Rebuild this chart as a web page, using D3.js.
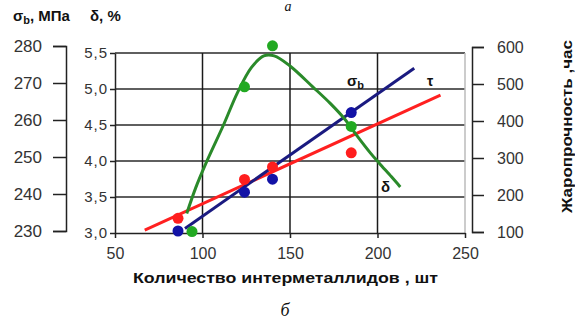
<!DOCTYPE html>
<html>
<head>
<meta charset="utf-8">
<script src="https://cdn.jsdelivr.net/npm/d3@7"></script>
<style>
  body { margin: 0; background: #fff; }
  svg { display: block; font-family: Arial, "Liberation Sans", sans-serif; }
  .tick line { stroke: #222; stroke-width: 1.5; }
  .domain { stroke: #222; stroke-width: 1.5; }
  .tick text { fill: #333; }
</style>
</head>
<body>
<div id="chart"></div>
<script>
// data
const xTicks = [50, 100, 150, 200, 250];
const sigmaTicks = [230, 240, 250, 260, 270, 280];
const deltaTicks = [3.0, 3.5, 4.0, 4.5, 5.0, 5.5];
const tauTicks = [100, 200, 300, 400, 500, 600];

// σb points (МПа) and trend
const sigmaX = [86, 124, 140, 185];
const sigmaVal = [230, 240.5, 244, 262];
const sigmaLineX = [90, 221];
const sigmaLineVal = [230.7, 274];

// жаропрочность points (час) and trend
const tauX = [86, 124, 140, 185];
const tauVal = [137, 242, 276, 314];
const tauLineX = [67, 236];
const tauLineVal = [105, 470];

// δ points (%) and curve
const deltaX = [94, 124, 140, 185];
const deltaVal = [3.02, 5.03, 5.6, 4.48];
const deltaCurveX = [91, 96, 102, 112, 120, 128, 135, 141, 150, 163, 173, 181, 188, 196, 201, 208, 213];
const deltaCurveVal = [3.27, 3.62, 3.97, 4.5, 4.95, 5.3, 5.46, 5.46, 5.32, 5.03, 4.8, 4.59, 4.36, 4.11, 3.97, 3.78, 3.64];

const width = 575, height = 323;
const plot = { left: 115, right: 465, top: 53, bottom: 233 };

const svg = d3.select("#chart").append("svg")
    .attr("width", width)
    .attr("height", height);

const xScale = d3.scaleLinear().domain([50, 250]).range([plot.left, plot.right]);
const dScale = d3.scaleLinear().domain([3.0, 5.5]).range([plot.bottom, plot.top]);
const sScale = d3.scaleLinear().domain([230, 280]).range([231, 46]);
const tScale = d3.scaleLinear().domain([100, 600]).range([232, 47]);

const comma = d => d3.format(".1f")(d).replace(".", ",");

// grid
svg.append("g")
    .selectAll("line.h")
    .data(deltaTicks.slice(1))
    .join("line")
    .attr("x1", plot.left).attr("x2", plot.right)
    .attr("y1", d => dScale(d)).attr("y2", d => dScale(d))
    .attr("stroke", "#2a2a2a").attr("stroke-width", 1.5);

svg.append("g")
    .selectAll("line.v")
    .data(xTicks.slice(1, -1))
    .join("line")
    .attr("x1", d => xScale(d)).attr("x2", d => xScale(d))
    .attr("y1", plot.top).attr("y2", plot.bottom)
    .attr("stroke", "#1a1a1a").attr("stroke-width", 1.5);

svg.append("line")
    .attr("x1", plot.right).attr("x2", plot.right)
    .attr("y1", plot.top).attr("y2", plot.bottom)
    .attr("stroke", "#bbb").attr("stroke-width", 1.5);

// axes
svg.append("g")
    .attr("transform", `translate(0,${plot.bottom})`)
    .call(d3.axisBottom(xScale).tickValues(xTicks).tickSize(5).tickSizeOuter(0).tickPadding(10))
    .call(g => g.selectAll("text").attr("font-size", 16));

svg.append("g")
    .attr("transform", `translate(${plot.left},0)`)
    .call(d3.axisLeft(dScale).tickValues(deltaTicks).tickFormat(comma).tickSize(5).tickSizeOuter(0).tickPadding(2))
    .call(g => g.selectAll("text").attr("font-size", 15).attr("letter-spacing", 1).attr("fill", "#33334a"));

svg.append("g")
    .attr("transform", "translate(66,0)")
    .call(d3.axisLeft(sScale).tickValues(sigmaTicks).tickSize(13).tickPadding(11))
    .call(g => g.selectAll("text").attr("font-size", 17));

svg.append("g")
    .attr("transform", "translate(472,0)")
    .call(d3.axisRight(tScale).tickValues(tauTicks).tickSize(12).tickPadding(13))
    .call(g => g.selectAll("text").attr("font-size", 16));

// trend lines
const line = d3.line();

svg.append("path")
    .attr("d", line(tauLineX.map((x, i) => [xScale(x), tScale(tauLineVal[i])])))
    .attr("fill", "none").attr("stroke", "#ff2020").attr("stroke-width", 3);

svg.append("path")
    .attr("d", line(sigmaLineX.map((x, i) => [xScale(x), sScale(sigmaLineVal[i])])))
    .attr("fill", "none").attr("stroke", "#1a1a80").attr("stroke-width", 3);

svg.append("path")
    .attr("d", d3.line().curve(d3.curveCatmullRom)(deltaCurveX.map((x, i) => [xScale(x), dScale(deltaCurveVal[i])])))
    .attr("fill", "none").attr("stroke", "#2a8a2a").attr("stroke-width", 3);

// markers
function dots(xs, vs, scale, color) {
    svg.append("g")
        .selectAll("circle")
        .data(xs.map((x, i) => ({ x, v: vs[i] })))
        .join("circle")
        .attr("cx", d => xScale(d.x))
        .attr("cy", d => scale(d.v))
        .attr("r", 5.5)
        .attr("fill", color);
}
dots(tauX, tauVal, tScale, "#ff1e1e");
dots(sigmaX, sigmaVal, sScale, "#1212a6");
dots(deltaX, deltaVal, dScale, "#22a922");

// in-plot labels
const sig = svg.append("text").attr("x", 347).attr("y", 86)
    .attr("font-size", 15).attr("font-weight", "bold").attr("fill", "#111").text("σ");
sig.append("tspan").attr("dy", 3).attr("font-size", 11).text("b");
svg.append("text").attr("x", 427).attr("y", 86)
    .attr("font-size", 14).attr("font-weight", "bold").attr("fill", "#111").text("τ");
svg.append("text").attr("x", 381).attr("y", 192)
    .attr("font-size", 15).attr("font-weight", "bold").attr("fill", "#111").text("δ");

// axis titles
const st = svg.append("text").attr("x", 13).attr("y", 21)
    .attr("font-size", 15).attr("font-weight", "bold").attr("fill", "#111").text("σ");
st.append("tspan").attr("dy", 3).attr("font-size", 11).text("b");
st.append("tspan").attr("dy", -3).text(", МПа");
svg.append("text").attr("x", 90).attr("y", 21)
    .attr("font-size", 15).attr("font-weight", "bold").attr("fill", "#111").text("δ, %");

svg.append("text").attr("x", 133).attr("y", 283)
    .attr("font-size", 15).attr("font-weight", "bold").attr("fill", "#111")
    .attr("textLength", 305).attr("lengthAdjust", "spacingAndGlyphs")
    .text("Количество интерметаллидов , шт");

svg.append("text")
    .attr("transform", "translate(572,213) rotate(-90)")
    .attr("font-size", 14).attr("font-weight", "bold").attr("fill", "#111")
    .attr("textLength", 173).attr("lengthAdjust", "spacingAndGlyphs")
    .text("Жаропрочность ,час");

svg.append("text").attr("x", 285).attr("y", 316).attr("text-anchor", "middle")
    .attr("font-family", "Liberation Serif, serif").attr("font-style", "italic")
    .attr("font-size", 18).attr("fill", "#111").text("б");
svg.append("text").attr("x", 288).attr("y", 11).attr("text-anchor", "middle")
    .attr("font-family", "Liberation Serif, serif").attr("font-style", "italic")
    .attr("font-size", 14).attr("fill", "#111").text("а");
</script>
</body>
</html>
